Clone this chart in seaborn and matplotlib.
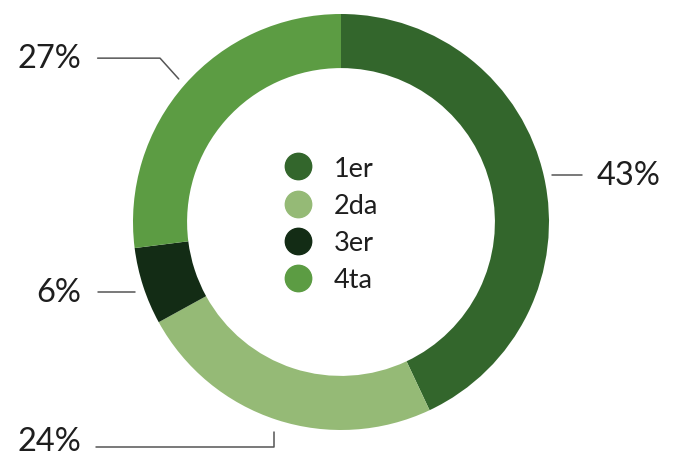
import numpy as np
import matplotlib
matplotlib.use("Agg")
import matplotlib.pyplot as plt
from matplotlib.lines import Line2D
import seaborn as sns

# data
categories = ["1er", "2da", "3er", "4ta"]
shares = [43, 24, 6, 27]
colors = ["#33662c", "#95ba76", "#132c15", "#5c9c43"]

sns.set_theme(style="white")
plt.rcParams["font.family"] = ["Lato", "DejaVu Sans"]

fig = plt.figure(figsize=(6.74, 4.6), dpi=100)
# axes sized so the ring sits where it does in the reference
ax = fig.add_axes([(341 - 208) / 674, (237 - 208) / 460, 416 / 674, 416 / 460])

wedges, _ = ax.pie(shares, colors=colors, startangle=90, counterclock=False,
                   radius=1.0, wedgeprops=dict(width=0.26, linewidth=0))
ax.set_xlim(-1, 1)
ax.set_ylim(-1, 1)
ax.set_aspect("equal")
ax.axis("off")

# leader lines from each wedge's middle angle to its label
line_kw = dict(color="#555555", lw=1.1, clip_on=False)
txt_kw = dict(fontsize=23.5, color="#1e1e1e", va="center")
for w, val in zip(wedges, shares):
    mid = np.deg2rad((w.theta1 + w.theta2) / 2)
    ax_x, ax_y = 1.04 * np.cos(mid), 1.04 * np.sin(mid)
    lab = f"{val}%"
    if val == 43:
        ax.plot([ax_x, 1.16], [ax_y, ax_y], **line_kw)
        ax.text(1.23, ax_y, lab, ha="left", **txt_kw)
    elif val == 27:
        ey = ax_y + 0.10
        ex = ax_x - 0.09
        ax.plot([ax_x, ex, -1.17], [ax_y, ey, ey], **line_kw)
        ax.text(-1.25, ey, lab, ha="right", **txt_kw)
    elif val == 6:
        ax.plot([-0.99, -1.17], [ax_y - 0.015, ax_y - 0.015], **line_kw)
        ax.text(-1.25, ax_y - 0.015, lab, ha="right", **txt_kw)
    else:
        ey = -1.08
        ax.plot([ax_x, ax_x, -1.18], [-1.01, ey, ey], **line_kw)
        ax.text(-1.25, ey + 0.025, lab, ha="right", **txt_kw)

handles = [Line2D([0], [0], marker="o", linestyle="none", markersize=19,
                  markerfacecolor=c, markeredgecolor=c) for c in colors]
leg = ax.legend(handles, categories, loc="center", bbox_to_anchor=(0.475, 0.495),
                frameon=False, fontsize=19.5, labelspacing=0.45, handletextpad=0.75,
                handlelength=1.1, borderpad=0)
for t in leg.get_texts():
    t.set_color("#1e1e1e")

fig.savefig("out.png", dpi=100)
